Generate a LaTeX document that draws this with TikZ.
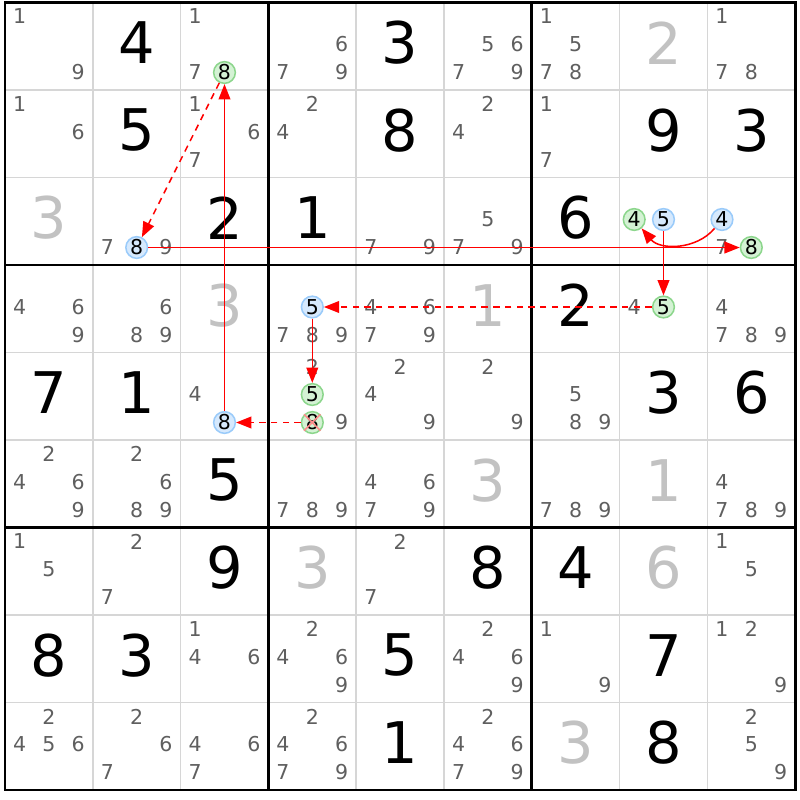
\documentclass[tikz,border=0pt]{standalone}
\usepackage{fontspec}
\setmainfont{DejaVu Sans}
\usetikzlibrary{arrows.meta}
\definecolor{candgray}{HTML}{5F5F5F}
\definecolor{solvedgray}{HTML}{C2C2C2}
\definecolor{gridgray}{HTML}{D6D6D6}
\definecolor{ongreen}{HTML}{8CD68C}
\definecolor{ongreenfill}{HTML}{D4F2D4}
\definecolor{offblue}{HTML}{9ACBFA}
\definecolor{offbluefill}{HTML}{D6E9FD}

\begin{document}
\begin{tikzpicture}[x=0.03cm, y=-0.03cm,
  cand/.style = {font=\fontsize{17.5pt}{18pt}\selectfont, text=candgray, inner sep=0pt},
  given/.style = {font=\fontsize{49pt}{50pt}\selectfont, inner sep=0pt},
  solved/.style = {given, text=solvedgray},
  oncand/.style = {circle, draw=ongreen, fill=ongreenfill, line width=1.3pt, inner sep=0pt, minimum size=18.5pt, font=\fontsize{17.5pt}{18pt}\selectfont},
  offcand/.style = {oncand, draw=offblue, fill=offbluefill},
  spot/.style n args = {3}{at={({5+#2*87.8+14.6+mod(#3-1,3)*29.3},{2.5+#1*87.5+14+floor((#3-1)/3)*28})}},
  cell/.style 2 args = {at={({5+(#2+0.5)*87.8},{2.5+(#1+0.5)*87.5-3.5})}},
  cellline/.style = {draw=gridgray, line width=1.3pt},
  boxline/.style = {draw=black, line width=2.5pt, line cap=rect},
  strong/.style = {draw=red, line width=1.3pt, -{Triangle[length=13pt, width=10pt]}},
  weak/.style = {strong, dash pattern=on 5.5pt off 4.5pt},
  strike/.style = {draw=red!45, line width=1.3pt}]
\fill[white] (0,0) rectangle (800,800);
\useasboundingbox (0,0) rectangle (800,800);

\foreach \i in {1,2,4,5,7,8} {
  \draw[cellline] ({5+\i*87.8},2.5) -- ({5+\i*87.8},790);
  \draw[cellline] (5,{2.5+\i*87.5}) -- (795,{2.5+\i*87.5});
}
\foreach \i in {0,3,6,9} {
  \draw[boxline] ({5+\i*87.8},2.5) -- ({5+\i*87.8},790);
  \draw[boxline] (5,{2.5+\i*87.5}) -- (795,{2.5+\i*87.5});
}

\foreach \r/\c/\d in {0/1/4, 0/4/3, 1/1/5, 1/4/8, 1/7/9, 1/8/3, 2/2/2, 2/3/1, 2/6/6, 3/6/2, 4/0/7, 4/1/1, 4/7/3, 4/8/6, 5/2/5, 6/2/9, 6/5/8, 6/6/4, 7/0/8, 7/1/3, 7/4/5, 7/7/7, 8/4/1, 8/7/8}
  \node[given, cell={\r}{\c}] (\r\c) {\d};
\foreach \r/\c/\d in {0/7/2, 2/0/3, 3/2/3, 3/5/1, 5/5/3, 5/7/1, 6/3/3, 6/7/6, 8/6/3}
  \node[solved, cell={\r}{\c}] (\r\c) {\d};

\foreach \r/\c/\ds in {0/0/{1,9}, 0/2/{1,7}, 0/3/{6,7,9}, 0/5/{5,6,7,9}, 0/6/{1,5,7,8}, 0/8/{1,7,8},
    1/0/{1,6}, 1/2/{1,6,7}, 1/3/{2,4}, 1/5/{2,4}, 1/6/{1,7},
    2/1/{7,9}, 2/4/{7,9}, 2/5/{5,7,9}, 2/8/{7},
    3/0/{4,6,9}, 3/1/{6,8,9}, 3/3/{7,8,9}, 3/4/{4,6,7,9}, 3/7/{4}, 3/8/{4,7,8,9},
    4/2/{4}, 4/3/{2,9}, 4/4/{2,4,9}, 4/5/{2,9}, 4/6/{5,8,9},
    5/0/{2,4,6,9}, 5/1/{2,6,8,9}, 5/3/{7,8,9}, 5/4/{4,6,7,9}, 5/6/{7,8,9}, 5/8/{4,7,8,9},
    6/0/{1,5}, 6/1/{2,7}, 6/4/{2,7}, 6/8/{1,5},
    7/2/{1,4,6}, 7/3/{2,4,6,9}, 7/5/{2,4,6,9}, 7/6/{1,9}, 7/8/{1,2,9},
    8/0/{2,4,5,6}, 8/1/{2,6,7}, 8/2/{4,6,7}, 8/3/{2,4,6,7,9}, 8/5/{2,4,6,7,9}, 8/8/{2,5,9}}
  \foreach \n in \ds
    \node[cand, spot={\r}{\c}{\n}] (\r\c\n) {\n};

\node[oncand, spot={0}{2}{8}] (028) {8};
\node[offcand, spot={2}{1}{8}] (218) {8};
\node[oncand, spot={2}{7}{4}] (274) {4};
\node[offcand, spot={2}{7}{5}] (275) {5};
\node[offcand, spot={2}{8}{4}] (284) {4};
\node[oncand, spot={2}{8}{8}] (288) {8};
\node[offcand, spot={3}{3}{5}] (335) {5};
\node[oncand, spot={3}{7}{5}] (375) {5};
\node[offcand, spot={4}{2}{8}] (428) {8};
\node[oncand, spot={4}{3}{5}] (435) {5};
\node[oncand, spot={4}{3}{8}] (438) {8};
\draw[strike] (438.north west) -- (438.south east) (438.north east) -- (438.south west);

\draw[strong] (284) to[bend left=50] (274);
\draw[strong] (275) -- (375);
\draw[weak] (375) -- (335);
\draw[strong] (335) -- (435);
\draw[weak] (438) -- (428);
\draw[strong] (428) -- (028);
\draw[weak] (028) -- (218);
\draw[strong] (218) -- (288);
\end{tikzpicture}
\end{document}
